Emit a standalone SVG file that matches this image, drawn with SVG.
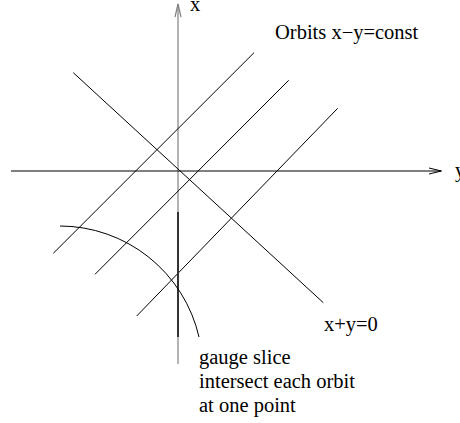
<svg xmlns="http://www.w3.org/2000/svg" width="460" height="423" viewBox="0 0 460 423">
<style>
.ln{stroke:#000;stroke-width:1;fill:none}
.ax{stroke:#808080;stroke-width:1.2;fill:none}
.sl{stroke:#333;stroke-width:2;fill:none}
text{font-family:"Liberation Serif","Times New Roman",serif;font-size:20.5px;fill:#000}
</style>
<rect width="460" height="423" fill="#fff"/>
<g id="axes">
<g id="x-axis">
<line class="ax" x1="178" y1="364" x2="178" y2="4"/>
<polyline class="ax" points="175,17 178,4 181,17"/>
<text x="190" y="11">x</text>
</g>
<g id="y-axis">
<line class="ln" x1="11" y1="171" x2="441" y2="171"/>
<polyline class="ln" points="429,168 441.5,171 429,174"/>
<text x="455" y="177">y</text>
</g>
</g>
<g id="connectors">
<line id="antidiag" class="ln" x1="73.3" y1="72.7" x2="323.3" y2="302.7"/>
<line id="orbit1" class="ln" x1="53.3" y1="253.3" x2="254" y2="52.7"/>
<line id="orbit2" class="ln" x1="95" y1="274.3" x2="288.7" y2="80.3"/>
<line id="orbit3" class="ln" x1="136.7" y1="316" x2="337.7" y2="108.3"/>
<line id="slice-seg" class="sl" x1="178" y1="212" x2="178" y2="337"/>
<path id="gauge-arc" class="ln" d="M60,226 A143,143 0 0 1 199,337"/>
</g>
<g id="label-orbits"><text x="275" y="39">Orbits x−y=const</text></g>
<g id="label-xy0"><text x="324" y="331">x+y=0</text></g>
<g id="label-gauge">
<text x="199" y="364">gauge slice</text>
<text x="199" y="388">intersect each orbit</text>
<text x="199" y="412">at one point</text>
</g>
</svg>
